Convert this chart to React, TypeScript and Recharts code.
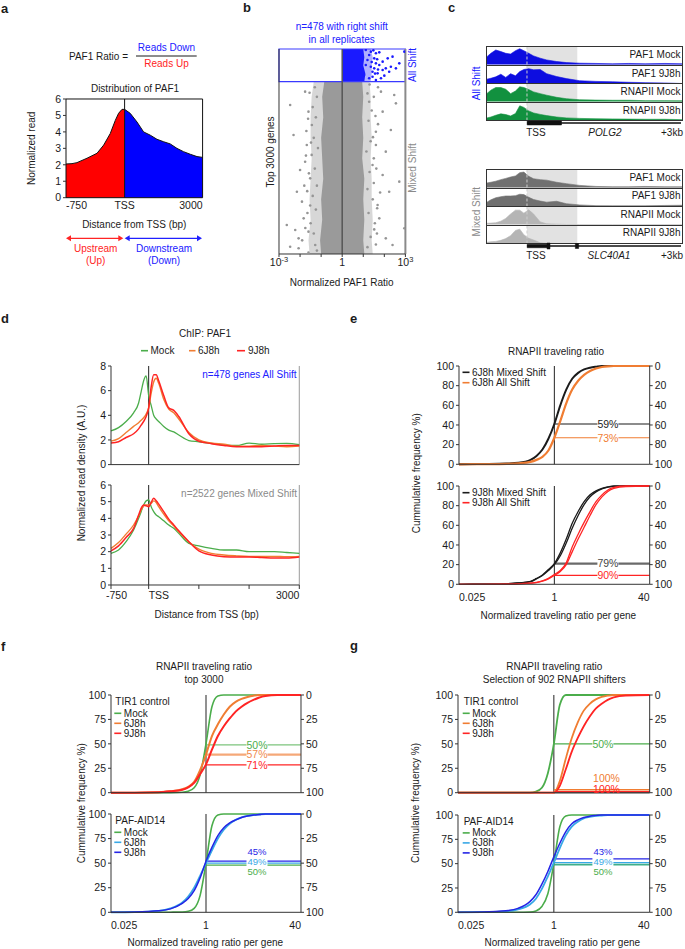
import React from "react";
import {
  ComposedChart,
  LineChart,
  AreaChart,
  Line,
  Area,
  Scatter,
  XAxis,
  YAxis,
  ReferenceLine,
  ReferenceArea,
  ReferenceDot,
} from "recharts";

const FONT = '"Liberation Sans", Arial, Helvetica, sans-serif';
const INK = "#1b1b1b";
const AXIS = "#333333";
const BLUE = "#2020ff";
const RED = "#ff2424";
const ORANGE = "#f07d32";
const GREEN = "#4bad4b";
const LBLUE = "#38a8e6";
const DBLUE = "#2424e6";
const GREY_TXT = "#8a8a8a";
const TICK = { fontSize: 10.5, fill: INK };

// ---------- a: distribution of PAF1 (x in % of the window, TSS at 42.9) ----------
const aPos = [0, 4.4, 8, 15.4, 22.7, 27.6, 32.4, 36.1, 38.5, 41, 42.9, 47, 52, 56.8, 61.7, 66.6, 71.5, 76.3, 81.2, 86, 91, 95.9, 100];
const aRead = [2.05, 2.07, 2.13, 2.4, 2.7, 3.2, 3.9, 4.7, 5.13, 5.37, 5.37, 5.13, 4.6, 4.0, 3.8, 3.55, 3.4, 3.27, 3.0, 2.8, 2.64, 2.5, 2.45];
const aTss = 42.9;
const aTicks = [0, 42.9, 100];
const aTickLabels = ["-750", "TSS", "3000"];

// ---------- b: normalized PAF1 ratio (log10) per gene rank ----------
const bAllShift = 478;
const bBlueRank = [0, 120, 240, 360, 478];
const bBlueCore = [[0, 1.0], [0, 1.05], [0, 1.0], [0, 1.1], [0, 1.05]];
const bBlueFringe = [[0, 1.35], [0, 1.45], [0, 1.4], [0, 1.4], [0, 1.35]];
const bGrayRank = [478, 700, 1000, 1300, 1600, 1900, 2200, 2500, 2800, 3000];
const bGrayCore = [[-0.85, 0.95], [-0.95, 1.0], [-0.9, 0.95], [-1.0, 1.0], [-0.95, 0.95], [-0.9, 1.05], [-1.0, 1.0], [-0.95, 1.05], [-1.05, 1.0], [-1.0, 1.05]];
const bGrayFringe = [[-1.35, 1.3], [-1.45, 1.35], [-1.5, 1.35], [-1.5, 1.4], [-1.45, 1.35], [-1.5, 1.4], [-1.55, 1.4], [-1.5, 1.45], [-1.6, 1.4], [-1.55, 1.45]];
const bGrayOut = [
  [-2.47, 819], [-2.31, 1258], [-2.15, 2088], [-2.23, 2649], [-2.63, 2576], [-2.47, 2893], [-2.07, 2771],
  [-1.6, 917], [-1.68, 1405], [-1.76, 1649], [-2.0, 1771], [-1.91, 2234], [-1.83, 2478], [-1.44, 1112],
  [-1.52, 1893], [-1.6, 2673], [-1.28, 2868], [-2.07, 2917], [-1.76, 624],
  [2.47, 673], [2.55, 795], [1.92, 917], [2.31, 1185], [1.6, 1405], [2.07, 1502], [2.71, 1941], [2.23, 2088],
  [1.68, 2283], [2.95, 2624], [2.07, 2771], [2.39, 2868], [1.76, 2478], [1.44, 1698], [1.92, 1844], [1.6, 1210],
  [1.84, 624], [1.28, 771],
  [-1.3, 560], [-1.2, 700], [-1.4, 850], [-1.25, 1000], [-1.35, 1300], [-1.15, 1450], [-1.45, 1550], [-1.3, 1750],
  [-1.2, 2000], [-1.4, 2150], [-1.25, 2350], [-1.5, 2550], [-1.35, 2700], [-1.2, 2950], [-1.7, 1200], [-1.8, 2000],
  [-1.9, 2800], [-1.65, 2400],
  [1.3, 520], [1.2, 650], [1.4, 900], [1.25, 1050], [1.35, 1350], [1.15, 1500], [1.5, 1600], [1.3, 1800],
  [1.2, 2050], [1.45, 2200], [1.25, 2400], [1.55, 2550], [1.35, 2750], [1.2, 2900], [1.7, 1100], [1.8, 2100], [1.65, 2700],
  [-1.55, 640], [-1.62, 1020], [-1.48, 1370], [-1.72, 1560], [-1.58, 1820], [-1.66, 2080], [-1.52, 2290], [-1.75, 2620], [-1.6, 2980],
  [1.5, 700], [1.58, 980], [1.46, 1290], [1.62, 1750], [1.5, 1960], [1.66, 2330], [1.52, 2640], [1.6, 2860], [1.7, 560],
];
const bBlueOut = [
  [1.12, 15], [1.36, 39], [1.6, 63], [1.76, 49], [1.52, 137], [1.92, 185], [2.16, 137], [2.39, 112], [2.71, 210],
  [1.92, 307], [1.68, 356], [1.44, 405], [1.28, 429], [1.6, 454], [2.07, 283], [2.31, 259], [1.76, 234], [1.36, 259],
  [1.2, 161], [1.6, 210], [1.84, 429], [1.44, 332], [2.55, 283], [2.95, 39], [1.04, 380], [1.12, 234], [2.23, 332],
  [2.0, 390], [1.52, 283], [1.28, 88], [1.48, 20], [1.66, 150], [1.4, 190], [1.56, 360], [1.7, 300],
];
const bTicks = [-3, -2, -1, 0, 1, 2, 3];
const bTickLabels: Record<number, [string, string]> = { [-3]: ["10", "-3"], 0: ["1", ""], 3: ["10", "3"] };

// ---------- c: browser tracks (x in % of window, 0..1 of track height) ----------
const cPos = [0, 2, 4.5, 7.1, 9.6, 12.1, 14.6, 16.8, 18.9, 21.4, 23.9, 27.3, 30.6, 35.7, 40.7, 47.5, 55.9, 64.3, 72.7, 81.1, 91.2, 100];
const cTss = 20.5;
const cShadeEnd = 46.3;
const cPolgPafMock = [0.45, 0.64, 0.83, 0.74, 0.64, 0.6, 0.79, 0.9, 0.79, 0.64, 0.49, 0.36, 0.26, 0.17, 0.11, 0.075, 0.06, 0.04, 0.06, 0.04, 0.06, 0.04];
const cPolgPaf9 = [0.25, 0.3, 0.38, 0.53, 0.35, 0.56, 0.44, 0.68, 0.8, 0.85, 0.78, 0.8, 0.56, 0.4, 0.28, 0.16, 0.12, 0.1, 0.07, 0.05, 0.03, 0];
const cPolgPolMock = [0.46, 0.65, 0.8, 0.8, 0.7, 0.45, 0.6, 0.84, 0.8, 0.68, 0.55, 0.45, 0.36, 0.24, 0.16, 0.1, 0.08, 0.07, 0.07, 0.05, 0.05, 0.04];
const cPolgPol9 = [0.15, 0.2, 0.3, 0.38, 0.34, 0.26, 0.4, 0.84, 0.75, 0.55, 0.43, 0.35, 0.28, 0.2, 0.15, 0.12, 0.1, 0.09, 0.08, 0.07, 0.07, 0.05];
const cSlcPafMock = [0.26, 0.3, 0.36, 0.45, 0.52, 0.6, 0.66, 0.85, 0.88, 0.64, 0.5, 0.45, 0.42, 0.3, 0.22, 0.12, 0.06, 0.04, 0.04, 0.06, 0.04, 0.04];
const cSlcPaf9 = [0.25, 0.38, 0.5, 0.56, 0.6, 0.6, 0.62, 0.7, 0.68, 0.53, 0.4, 0.31, 0.25, 0.3, 0.16, 0.09, 0.05, 0.04, 0.04, 0.04, 0.06, 0.07];
const cSlcPolMock = [0.07, 0.08, 0.1, 0.19, 0.35, 0.6, 0.82, 0.82, 0.65, 0.84, 0.6, 0.15, 0.04, 0.02, 0, 0, 0, 0, 0, 0, 0, 0];
const cSlcPol9 = [0.07, 0.1, 0.12, 0.18, 0.28, 0.45, 0.75, 0.82, 0.5, 0.3, 0.2, 0.04, 0.02, 0, 0, 0, 0, 0, 0, 0, 0, 0];
const cPolgExons = [[20.6, 38.2, 0.4]];
const cSlcExons = [[20.6, 31.5, 0.35], [30.8, 32.3, 0.6], [45.3, 47, 0.5]];

// ---------- d: ChIP PAF1 metagene ----------
const dBp = [-750, -600, -450, -300, -200, -150, -100, -50, 0, 50, 100, 150, 200, 300, 400, 500, 600, 800, 1000, 1250, 1500, 1750, 2000, 2250, 2500, 2750, 3000];
const dAllMock = [2.73, 3.0, 3.5, 4.2, 5.0, 5.9, 6.8, 7.2, 5.6, 4.8, 4.0, 3.7, 3.5, 3.1, 2.8, 2.65, 2.4, 1.95, 1.85, 1.72, 1.6, 1.55, 1.75, 1.65, 1.7, 1.72, 1.62];
const dAll6 = [1.9, 2.1, 2.6, 3.1, 3.4, 3.6, 3.8, 4.1, 4.6, 5.8, 6.7, 7.0, 6.6, 5.3, 4.5, 4.2, 3.7, 2.6, 2.0, 1.75, 1.65, 1.5, 1.5, 1.55, 1.5, 1.45, 1.5];
const dAll9 = [1.75, 1.85, 2.2, 2.5, 2.9, 3.2, 3.5, 3.9, 4.6, 6.3, 7.3, 7.3, 6.8, 5.6, 4.6, 4.4, 3.9, 2.5, 1.9, 1.7, 1.55, 1.45, 1.45, 1.45, 1.5, 1.55, 1.55];
const dMixMock = [1.9, 2.1, 2.6, 3.3, 4.0, 4.4, 4.8, 5.05, 5.1, 4.7, 4.4, 4.2, 4.1, 3.85, 3.6, 3.4, 3.1, 2.5, 2.35, 2.2, 2.1, 2.1, 2.0, 2.0, 2.0, 1.95, 1.9];
const dMix6 = [2.2, 2.55, 3.05, 3.6, 4.15, 4.5, 4.75, 4.8, 4.8, 4.9, 5.05, 4.95, 4.7, 4.25, 3.85, 3.55, 3.2, 2.6, 2.15, 1.9, 1.8, 1.75, 1.72, 1.72, 1.72, 1.7, 1.72];
const dMix9 = [2.05, 2.35, 2.85, 3.4, 4.2, 4.6, 4.8, 4.75, 4.7, 4.95, 5.2, 5.05, 4.85, 4.4, 3.95, 3.6, 3.25, 2.6, 2.05, 1.8, 1.7, 1.68, 1.68, 1.65, 1.62, 1.62, 1.68];
const dTicks = [-750, 0, 1000, 2000, 3000];
const dTickLabels = ["-750", "TSS", "", "", "3000"];

// ---------- e/f/g: cumulative traveling ratio (x = log10 ratio) ----------
const LOG_LO = Math.log10(0.025);
const LOG_HI = Math.log10(40);
const cdfLog = [LOG_LO, -1.2, -0.8, -0.6, -0.4, -0.3, -0.2, -0.1, 0, 0.1, 0.2, 0.3, 0.4, 0.5, 0.6, 0.7, 0.8, 0.9, 1.0, 1.2, LOG_HI];
const cdfTicks = [LOG_LO, 0, LOG_HI];
const cdfTickLabels = ["0.025", "1", "40"];

const e6Mixed = [0, 0.3, 0.8, 1.5, 4.5, 8.5, 15, 26, 41, 60, 76, 87, 93, 96.5, 98.3, 99.3, 100, 100, 100, 100, 100];
const e6All = [0, 0.2, 0.5, 1, 2.5, 4.5, 7.5, 14, 27, 44, 62, 76, 85, 91, 95, 97.5, 99, 99.7, 100, 100, 100];
const e9Mixed = [0, 0.2, 0.5, 1.5, 3, 6, 9.5, 15, 21, 32, 46, 62, 74, 84, 91, 95, 97.5, 99, 100, 100, 100];
const e9MixedB = [0, 0.2, 0.5, 1.3, 2.7, 5.5, 9, 14, 20, 29, 42, 57, 70, 81, 89, 94, 97, 98.8, 99.7, 100, 100];
const e9All = [0, 0, 0.2, 0.5, 1.2, 2, 3.5, 6, 10, 14, 22, 38, 51, 63, 74, 84, 91, 96, 98.5, 100, 100];
const e9AllB = [0, 0, 0.2, 0.5, 1.1, 1.8, 3.2, 5.5, 9, 13, 20, 33, 46, 58, 70, 81, 89, 94.5, 97.5, 99.5, 100];

const fTirMock = [0, 0, 0, 0.1, 0.5, 1.5, 5, 18, 50, 88, 99, 100, 100, 100, 100, 100, 100, 100, 100, 100, 100];
const fTir6 = [0, 0, 0.5, 1.5, 3.5, 6, 11, 23, 39, 58, 70, 80, 88, 93, 96, 98, 99.3, 100, 100, 100, 100];
const fTir9 = [0, 0, 0.5, 1.5, 3, 5.5, 10, 19, 29, 44, 58, 68, 76, 83, 88, 92, 95, 97.5, 99, 100, 100];
const fPafMock = [0, 0, 0, 0.1, 0.3, 1, 4, 17, 50, 88, 99, 100, 100, 100, 100, 100, 100, 100, 100, 100, 100];
const fPaf6 = [0, 0.3, 1.5, 4, 10, 16, 25, 37, 50, 63, 75, 84, 90, 94, 96.5, 98, 99, 99.5, 100, 100, 100];
const fPaf9 = [0, 0.3, 1.5, 3.5, 9, 14, 22, 35, 52, 66, 78, 86, 91, 94, 96.5, 98, 99, 99.5, 100, 100, 100];

const gTirMock = [0, 0, 0, 0, 0, 1, 5, 20, 50, 90, 100, 100, 100, 100, 100, 100, 100, 100, 100, 100, 100];
const gTir6 = [0, 0, 0, 0, 0, 0, 0, 0, 0, 12, 35, 56, 72, 84, 91, 95.5, 98, 99.3, 100, 100, 100];
const gTir9 = [0, 0, 0, 0, 0, 0, 0, 0, 0, 7, 24, 42, 56, 68, 78, 86, 91, 95, 97.5, 99.5, 100];
const gPafMock = [0, 0, 0, 0, 0.3, 1.4, 6, 19, 50, 88, 99, 100, 100, 100, 100, 100, 100, 100, 100, 100, 100];
const gPaf6 = [0, 0.3, 1, 3, 8, 14, 24, 37, 51, 66, 79, 88, 93, 96.5, 98, 99, 99.5, 100, 100, 100, 100];
const gPaf9 = [0, 0.3, 1.5, 4, 11, 18, 29, 42, 57, 71, 83, 91, 95, 97.5, 98.8, 99.5, 100, 100, 100, 100, 100];

type Rect = { x: number; y: number; w: number; h: number };
const at = (p: Rect, l: number, t: number): React.CSSProperties => ({ position: "absolute", left: p.x - l, top: p.y - t });

function xTick(ticks: number[], labels: string[], anchors: string[], dx: number[] = [], yOff = 0) {
  return (p: any) => {
    const i = ticks.indexOf(p.payload.value);
    if (i < 0 || !labels[i]) return <g />;
    return (
      <text x={p.x + (dx[i] || 0)} y={p.y + yOff} dy="0.71em" textAnchor={anchors[i]} fontSize={10.5} fill={INK}>
        {labels[i]}
      </text>
    );
  };
}

function PanelA() {
  const plot = { x: 65.7, y: 99, w: 136.6, h: 98.7 };
  const L = 30, R = 4, T = 6, B = 18;
  const rows = aPos.map((x, i) => ({ x, up: x <= aTss ? aRead[i] : null, down: x >= aTss ? aRead[i] : null }));
  return (
    <div style={at(plot, L, T)}>
      <ComposedChart width={plot.w + L + R} height={plot.h + T + B} data={rows} margin={{ top: T, right: R, bottom: 0, left: 0 }}>
        <XAxis type="number" dataKey="x" domain={[0, 100]} ticks={aTicks} interval={0} height={B} tickLine={false} axisLine={false}
          tick={xTick(aTicks, aTickLabels, ["start", "middle", "end"], [0, 0, 0], -4)} />
        <YAxis domain={[0, 6]} ticks={[0, 1, 2, 3, 4, 5, 6]} interval={0} width={L} tickSize={3} axisLine={false} tickLine={{ stroke: AXIS }} tick={TICK} />
        <Area dataKey="up" type="linear" fill="#ff0000" fillOpacity={1} stroke="#111" strokeWidth={1} isAnimationActive={false} />
        <Area dataKey="down" type="linear" fill="#0000ff" fillOpacity={1} stroke="#111" strokeWidth={1} isAnimationActive={false} />
        <ReferenceLine x={aTss} stroke="#111" />
        <ReferenceArea x1={0} x2={100} y1={0} y2={6} fill="none" stroke="#111" />
      </ComposedChart>
    </div>
  );
}

const dot = (color: string) => (p: any) => <circle cx={p.cx} cy={p.cy} r={1.3} fill={color} />;

function PanelB() {
  const plot = { x: 279.3, y: 49, w: 126.4, h: 205 };
  const L = 14, R = 12, T = 4, B = 24;
  const rows = [
    ...bBlueRank.map((rank, i) => ({ rank, blueCore: bBlueCore[i], blueFringe: bBlueFringe[i] })),
    ...bGrayRank.map((rank, i) => ({ rank, grayCore: bGrayCore[i], grayFringe: bGrayFringe[i] })),
  ];
  const grayPts = bGrayOut.map(([lr, rank]) => ({ lr, rank }));
  const bluePts = bBlueOut.map(([lr, rank]) => ({ lr, rank }));
  const tick = (p: any) => {
    const lab = bTickLabels[p.payload.value];
    if (!lab) return <g />;
    return (
      <text x={p.x} y={p.y} dy="0.71em" textAnchor="middle" fontSize={10.5} fill={INK}>
        {lab[0]}
        {lab[1] ? <tspan dy={-4} fontSize={7.5}>{lab[1]}</tspan> : null}
      </text>
    );
  };
  return (
    <div style={at(plot, L, T)}>
      <ComposedChart layout="vertical" width={plot.w + L + R} height={plot.h + T + B} data={rows} margin={{ top: T, right: R, bottom: 0, left: 0 }}>
        <XAxis type="number" domain={[-3, 3]} ticks={bTicks} interval={0} height={B} tickSize={3} axisLine={{ stroke: AXIS }} tickLine={{ stroke: AXIS }} tick={tick} allowDataOverflow />
        <YAxis type="number" dataKey="rank" domain={[0, 3000]} width={L} tick={false} tickLine={false} axisLine={{ stroke: AXIS }} allowDataOverflow />
        <Area dataKey="grayFringe" fill="#9a9a9a" fillOpacity={0.4} stroke="none" isAnimationActive={false} />
        <Area dataKey="grayCore" fill="#9a9a9a" fillOpacity={1} stroke="none" isAnimationActive={false} />
        <Area dataKey="blueFringe" fill="#1a1aff" fillOpacity={0.35} stroke="none" isAnimationActive={false} />
        <Area dataKey="blueCore" fill="#1a1aff" fillOpacity={1} stroke="none" isAnimationActive={false} />
        <Scatter data={grayPts} dataKey="lr" shape={dot("#959595")} isAnimationActive={false} />
        <Scatter data={bluePts} dataKey="lr" shape={dot("#1a1aff")} isAnimationActive={false} />
        <ReferenceLine x={0} stroke="#555" strokeWidth={1.5} />
        <ReferenceLine x={3} stroke="#8a8a8a" strokeWidth={2} />
        <ReferenceArea x1={-3} x2={3} y1={0} y2={bAllShift} fill="none" stroke="#3a3aff" strokeWidth={1.2} />
      </ComposedChart>
    </div>
  );
}

function Track({ w, h, values, color }: { w: number; h: number; values: number[]; color: string }) {
  const rows = cPos.map((p, i) => ({ p, v: values[i] }));
  return (
    <AreaChart width={w} height={h} data={rows} margin={{ top: 0, right: 0, bottom: 0, left: 0 }}>
      <XAxis type="number" dataKey="p" domain={[0, 100]} hide />
      <YAxis domain={[0, 1]} hide />
      <ReferenceArea x1={cTss} x2={cShadeEnd} y1={0} y2={1} fill="#e2e2e2" fillOpacity={1} stroke="none" />
      <Area dataKey="v" type="linear" fill={color} fillOpacity={1} stroke={color} strokeWidth={0.6} isAnimationActive={false} />
      <ReferenceLine x={cTss} stroke="#cfcfcf" strokeDasharray="3 2" />
    </AreaChart>
  );
}

function Gene({ left, top, w, exons }: { left: number; top: number; w: number; exons: number[][] }) {
  const rows = [{ p: cTss, g: 0 }, { p: 99.5, g: 0 }];
  return (
    <div style={{ position: "absolute", left, top }}>
      <ComposedChart width={w} height={10} data={rows} margin={{ top: 0, right: 0, bottom: 0, left: 0 }}>
        <XAxis type="number" dataKey="p" domain={[0, 100]} hide />
        <YAxis domain={[-1, 1]} hide />
        <Line dataKey="g" stroke="#111" strokeWidth={1.3} dot={false} activeDot={false} isAnimationActive={false} />
        {exons.map(([a, b, hh], i) => (
          <ReferenceArea key={i} x1={a} x2={b} y1={-hh} y2={hh} fill="#111" fillOpacity={1} stroke="#111" strokeWidth={0.5} />
        ))}
      </ComposedChart>
    </div>
  );
}

const C_LEFT = 486;
const C_W = 197;
const C_TRACK_H = 18.5;
const cGroups = [
  {
    top: 46.3,
    tracks: [
      { label: "PAF1 Mock", values: cPolgPafMock, color: "#0d0de0" },
      { label: "PAF1 9J8h", values: cPolgPaf9, color: "#0d0de0" },
      { label: "RNAPII Mock", values: cPolgPolMock, color: "#12913f" },
      { label: "RNAPII 9J8h", values: cPolgPol9, color: "#12913f" },
    ],
    exons: cPolgExons,
    gene: "POLG2",
  },
  {
    top: 169,
    tracks: [
      { label: "PAF1 Mock", values: cSlcPafMock, color: "#707070" },
      { label: "PAF1 9J8h", values: cSlcPaf9, color: "#707070" },
      { label: "RNAPII Mock", values: cSlcPolMock, color: "#b5b5b5" },
      { label: "RNAPII 9J8h", values: cSlcPol9, color: "#b5b5b5" },
    ],
    exons: cSlcExons,
    gene: "SLC40A1",
  },
];

function PanelC() {
  return (
    <>
      {cGroups.map((g, gi) => (
        <React.Fragment key={gi}>
          <div style={{ position: "absolute", left: C_LEFT, top: g.top, width: C_W - 2, borderLeft: "1px solid #333", borderRight: "1px solid #333", borderTop: "1px solid #333" }}>
            {g.tracks.map((t, ti) => (
              <div key={ti} style={{ height: C_TRACK_H - 1, borderBottom: "1px solid #333" }}>
                <Track w={C_W - 2} h={C_TRACK_H - 1} values={t.values} color={t.color} />
              </div>
            ))}
          </div>
          <Gene left={C_LEFT + 1} top={g.top + 1 + 4 * C_TRACK_H - 3} w={C_W - 2} exons={g.exons} />
        </React.Fragment>
      ))}
    </>
  );
}

function DChart({ plot, mock, h6, h9, yMax, yTicks, showX }: any) {
  const rows = dBp.map((x, i) => ({ x, mock: mock[i], h6: h6[i], h9: h9[i] }));
  const L = 30, R = 4, T = 6, B = showX ? 20 : 8;
  return (
    <div style={at(plot, L, T)}>
      <LineChart width={plot.w + L + R} height={plot.h + T + B} data={rows} margin={{ top: T, right: R, bottom: 0, left: 0 }}>
        <XAxis type="number" dataKey="x" domain={[-750, 3000]} ticks={dTicks} interval={0} height={B} tickSize={4} axisLine={{ stroke: AXIS }} tickLine={{ stroke: AXIS }}
          tick={showX ? xTick(dTicks, dTickLabels, ["start", "start", "middle", "middle", "end"], [-5, 0, 0, 0, 0], 1) : false} />
        <YAxis domain={[0, yMax]} ticks={yTicks} interval={0} width={L} tickSize={3} axisLine={{ stroke: AXIS }} tickLine={{ stroke: AXIS }} tick={TICK} />
        <ReferenceLine x={0} stroke="#222" />
        <ReferenceLine x={3000} stroke="#9a9a9a" />
        <Line dataKey="mock" type="monotone" stroke={GREEN} strokeWidth={1.3} dot={false} activeDot={false} isAnimationActive={false} />
        <Line dataKey="h6" type="monotone" stroke={ORANGE} strokeWidth={1.4} dot={false} activeDot={false} isAnimationActive={false} />
        <Line dataKey="h9" type="monotone" stroke={RED} strokeWidth={1.5} dot={false} activeDot={false} isAnimationActive={false} />
      </LineChart>
    </div>
  );
}

type Cdf = { key: string; values: number[]; color: string; width?: number };
type Pct = { at: number; color: string; width?: number; text?: string; textColor?: string; tx?: number; dy?: number; bg?: boolean; size?: number };

const pctShape = (p: Pct) => (props: any) => {
  const x = props.cx;
  const y = props.cy + (p.dy || 0);
  const w = (p.text || "").length * 6 + 3;
  return (
    <g>
      {p.bg !== false && <rect x={x - w / 2} y={y - 5.5} width={w} height={11} fill="#fff" />}
      <text x={x} y={y} dy="0.36em" textAnchor="middle" fontSize={p.size ?? 10.5} fill={p.textColor || p.color}>
        {p.text}
      </text>
    </g>
  );
};

function CdfChart({ plot, series, pcts, showX, yTicks }: { plot: Rect; series: Cdf[]; pcts: Pct[]; showX: boolean; yTicks: number[] }) {
  const rows = cdfLog.map((x, i) => {
    const r: any = { x };
    series.forEach((s) => (r[s.key] = s.values[i]));
    return r;
  });
  const L = 30, R = 30, T = 7, B = showX ? 22 : 8;
  return (
    <div style={at(plot, L, T)}>
      <LineChart width={plot.w + L + R} height={plot.h + T + B} data={rows} margin={{ top: T, right: 0, bottom: 0, left: 0 }}>
        <XAxis type="number" dataKey="x" domain={[LOG_LO, LOG_HI]} ticks={cdfTicks} interval={0} height={B} tickLine={false} axisLine={{ stroke: AXIS }}
          tick={showX ? xTick(cdfTicks, cdfTickLabels, ["start", "middle", "end"], [0, 0, 0], 1) : false} allowDataOverflow />
        <YAxis yAxisId="l" domain={[0, 100]} ticks={yTicks} interval={0} width={L} tickSize={3} axisLine={{ stroke: AXIS }} tickLine={{ stroke: AXIS }} tick={TICK} />
        <YAxis yAxisId="r" orientation="right" reversed domain={[0, 100]} ticks={yTicks} interval={0} width={R} tickSize={3} axisLine={{ stroke: AXIS }} tickLine={{ stroke: AXIS }} tick={TICK} />
        <Line yAxisId="r" dataKey={series[0].key} stroke="none" strokeWidth={0} dot={false} activeDot={false} legendType="none" isAnimationActive={false} />
        <ReferenceLine yAxisId="l" x={0} stroke="#222" />
        {pcts.map((p, i) => (
          <ReferenceLine key={"s" + i} yAxisId="r" segment={[{ x: 0, y: p.at }, { x: LOG_HI, y: p.at }]} stroke={p.color} strokeWidth={p.width ?? 1.2} />
        ))}
        {series.map((s) => (
          <Line key={s.key} yAxisId="l" dataKey={s.key} type="monotone" stroke={s.color} strokeWidth={s.width ?? 1.6} dot={false} activeDot={false} isAnimationActive={false} />
        ))}
        {pcts.filter((p) => p.text).map((p, i) => (
          <ReferenceDot key={"d" + i} yAxisId="r" x={p.tx ?? 0.9} y={p.at} r={0} shape={pctShape(p)} />
        ))}
      </LineChart>
    </div>
  );
}

function Txt({ x, y, children, size = 10, color = INK, anchor = "middle", rot = 0, bold = false, italic = false }: any) {
  return (
    <text x={x} y={y} fontSize={size} fill={color} textAnchor={anchor} dominantBaseline="central"
      transform={rot ? `rotate(${rot} ${x} ${y})` : undefined} fontWeight={bold ? "bold" : undefined} fontStyle={italic ? "italic" : undefined}>
      {children}
    </text>
  );
}

function Legend({ x, y, title, items, step = 10 }: any) {
  return (
    <g>
      {title && <Txt x={x + 1} y={y} anchor="start">{title}</Txt>}
      {items.map(([label, color]: [string, string], i: number) => {
        const cy = (title ? y + 11.6 : y) + i * step;
        return (
          <g key={i}>
            <line x1={x} x2={x + 7} y1={cy} y2={cy} stroke={color} strokeWidth={1.6} />
            <Txt x={x + 9.5} y={cy} anchor="start">{label}</Txt>
          </g>
        );
      })}
    </g>
  );
}

const panelLetters: [string, number, number][] = [["a", 1, 8], ["b", 243, 7.5], ["c", 448, 7.5], ["d", 1, 318], ["e", 350, 318], ["f", 1, 646.7], ["g", 350, 645]];

function Arrow({ x1, x2, y, color }: any) {
  return (
    <g>
      <line x1={x1 + 3} x2={x2 - 3} y1={y} y2={y} stroke={color} strokeWidth={1.2} />
      <polygon points={`${x1},${y} ${x1 + 5},${y - 3} ${x1 + 5},${y + 3}`} fill={color} />
      <polygon points={`${x2},${y} ${x2 - 5},${y - 3} ${x2 - 5},${y + 3}`} fill={color} />
    </g>
  );
}

function Overlay() {
  return (
    <svg width={685} height={949} style={{ position: "absolute", left: 0, top: 0, pointerEvents: "none" }} fontFamily={FONT}>
      {panelLetters.map(([t, x, y]) => (
        <Txt key={t} x={x} y={y} size={13} bold anchor="start">{t}</Txt>
      ))}
      {/* a */}
      <Txt x={69} y={56} anchor="start">PAF1 Ratio =</Txt>
      <Txt x={166.5} y={47.7} color={BLUE}>Reads Down</Txt>
      <line x1={136} x2={196.7} y1={56} y2={56} stroke={INK} strokeWidth={1} />
      <Txt x={166.5} y={63.6} color={RED}>Reads Up</Txt>
      <Txt x={135} y={88.3}>Distribution of PAF1</Txt>
      <Txt x={31.7} y={148.3} rot={-90}>Normalized read</Txt>
      <Txt x={134.3} y={224}>Distance from TSS (bp)</Txt>
      <Arrow x1={66} x2={123.3} y={238.3} color={RED} />
      <Arrow x1={124.7} x2={202} y={238.3} color={BLUE} />
      <Txt x={95.7} y={248.7} color={RED}>Upstream</Txt>
      <Txt x={95.7} y={260.5} color={RED}>(Up)</Txt>
      <Txt x={164} y={248.7} color={BLUE}>Downstream</Txt>
      <Txt x={164} y={260.5} color={BLUE}>(Down)</Txt>
      {/* b */}
      <Txt x={341.7} y={26.7} color={BLUE}>n=478 with right shift</Txt>
      <Txt x={341.7} y={39} color={BLUE}>in all replicates</Txt>
      <Txt x={270} y={152} rot={-90}>Top 3000 genes</Txt>
      <Txt x={412.7} y={65} rot={-90} color={BLUE}>All Shift</Txt>
      <Txt x={412.7} y={168} rot={-90} color={GREY_TXT}>Mixed Shift</Txt>
      <Txt x={341.7} y={282.7}>Normalized PAF1 Ratio</Txt>
      {/* c */}
      <Txt x={476.7} y={83.3} rot={-90} color={BLUE}>All Shift</Txt>
      <Txt x={476.7} y={211.7} rot={-90} color={GREY_TXT}>Mixed Shift</Txt>
      {cGroups.map((g, gi) => (
        <g key={gi}>
          {g.tracks.map((t, ti) => (
            <Txt key={ti} x={680.5} y={g.top + 1 + ti * C_TRACK_H + 7.3} anchor="end">{t.label}</Txt>
          ))}
          <Txt x={536} y={g.top + 4 * C_TRACK_H + 12.5}>TSS</Txt>
          <Txt x={gi === 0 ? 605 : 609} y={g.top + 4 * C_TRACK_H + 12.5} italic>{g.gene}</Txt>
          <Txt x={683} y={g.top + 4 * C_TRACK_H + 12.5} anchor="end">+3kb</Txt>
        </g>
      ))}
      {/* d */}
      <Txt x={205} y={333.3}>ChIP: PAF1</Txt>
      <line x1={141} x2={148} y1={350.7} y2={350.7} stroke={GREEN} strokeWidth={1.6} />
      <Txt x={150.5} y={350.7} anchor="start">Mock</Txt>
      <line x1={189} x2={195.5} y1={350.7} y2={350.7} stroke={ORANGE} strokeWidth={1.6} />
      <Txt x={198} y={350.7} anchor="start">6J8h</Txt>
      <line x1={237} x2={245} y1={350.7} y2={350.7} stroke={RED} strokeWidth={1.6} />
      <Txt x={248} y={350.7} anchor="start">9J8h</Txt>
      <Txt x={296.5} y={374} anchor="end" color={BLUE}>n=478 genes All Shift</Txt>
      <Txt x={297} y={493.3} anchor="end" color={GREY_TXT}>n=2522 genes Mixed Shift</Txt>
      <Txt x={81.7} y={473} rot={-90}>Normalized read density (A.U.)</Txt>
      <Txt x={206.7} y={614.7}>Distance from TSS (bp)</Txt>
      {/* e */}
      <Txt x={556} y={351}>RNAPII traveling ratio</Txt>
      <Legend x={462.5} y={372.3} items={[["6J8h Mixed Shift", INK], ["6J8h All Shift", ORANGE]]} step={10.4} />
      <Legend x={462.5} y={492.7} items={[["9J8h Mixed Shift", INK], ["9J8h All Shift", RED]]} step={10} />
      <Txt x={416.7} y={473.3} rot={-90}>Cummulative frequency %)</Txt>
      <Txt x={558.3} y={615}>Normalized traveling ratio per gene</Txt>
      {/* f */}
      <Txt x={204} y={666.7}>RNAPII traveling ratio</Txt>
      <Txt x={204} y={679.3}>top 3000</Txt>
      <Legend x={114.3} y={701.7} title="TIR1 control" items={[["Mock", GREEN], ["6J8h", ORANGE], ["9J8h", RED]]} />
      <Legend x={114.3} y={820.7} title="PAF-AID14" items={[["Mock", GREEN], ["6J8h", LBLUE], ["9J8h", DBLUE]]} />
      <Txt x={81.7} y={803.3} rot={-90}>Cummulative frequency %)</Txt>
      <Txt x={205.3} y={942.3}>Normalized traveling ratio per gene</Txt>
      {/* g */}
      <Txt x={554.3} y={666.7}>RNAPII traveling ratio</Txt>
      <Txt x={554.3} y={679.3}>Selection of 902 RNAPII shifters</Txt>
      <Legend x={462.7} y={701.7} title="TIR1 control" items={[["Mock", GREEN], ["6J8h", ORANGE], ["9J8h", RED]]} />
      <Legend x={462.7} y={821.3} title="PAF-AID14" items={[["Mock", GREEN], ["6J8h", LBLUE], ["9J8h", DBLUE]]} />
      <Txt x={415} y={803} rot={-90}>Cummulative frequency %)</Txt>
      <Txt x={562.3} y={942.3}>Normalized traveling ratio per gene</Txt>
    </svg>
  );
}

const TICKS_20 = [0, 20, 40, 60, 80, 100];
const TICKS_25 = [0, 25, 50, 75, 100];

export default function App() {
  return (
    <div style={{ position: "absolute", left: 0, top: 0, width: 685, height: 949, background: "#fff", fontFamily: FONT, overflow: "hidden" }}>
      <PanelA />
      <PanelB />
      <PanelC />
      <DChart plot={{ x: 111, y: 365.7, w: 188.3, h: 98.6 }} mock={dAllMock} h6={dAll6} h9={dAll9} yMax={8} yTicks={[0, 2, 4, 6, 8]} showX={false} />
      <DChart plot={{ x: 111, y: 485, w: 188.3, h: 100 }} mock={dMixMock} h6={dMix6} h9={dMix9} yMax={6} yTicks={[0, 1, 2, 3, 4, 5, 6]} showX />
      <CdfChart plot={{ x: 459.3, y: 366, w: 190.7, h: 98.3 }} showX={false} yTicks={TICKS_20}
        series={[{ key: "mix", values: e6Mixed, color: INK, width: 2 }, { key: "all", values: e6All, color: ORANGE, width: 2.2 }]}
        pcts={[{ at: 59, color: INK, text: "59%" }, { at: 73, color: ORANGE, text: "73%" }]} />
      <CdfChart plot={{ x: 459.3, y: 485.7, w: 190.7, h: 98.3 }} showX yTicks={TICKS_20}
        series={[
          { key: "mixA", values: e9Mixed, color: INK, width: 1.3 }, { key: "mixB", values: e9MixedB, color: INK, width: 1.3 },
          { key: "allA", values: e9All, color: RED, width: 1.3 }, { key: "allB", values: e9AllB, color: RED, width: 1.3 },
        ]}
        pcts={[{ at: 79, color: "#6a6a6a", width: 2.2, text: "79%", textColor: "#444" }, { at: 91, color: RED, text: "90%" }]} />
      <CdfChart plot={{ x: 111, y: 695, w: 190, h: 97.7 }} showX={false} yTicks={TICKS_25}
        series={[{ key: "m", values: fTirMock, color: GREEN }, { key: "h6", values: fTir6, color: ORANGE, width: 2 }, { key: "h9", values: fTir9, color: RED, width: 2 }]}
        pcts={[
          { at: 51, color: "#7cc47c", text: "50%", textColor: GREEN, tx: 0.86 },
          { at: 61, color: "#f5a878", width: 2.2, text: "57%", textColor: "#f08a4c", tx: 0.86 },
          { at: 71.5, color: RED, text: "71%", tx: 0.86 },
        ]} />
      <CdfChart plot={{ x: 111, y: 814, w: 190, h: 98.3 }} showX yTicks={TICKS_25}
        series={[{ key: "m", values: fPafMock, color: GREEN }, { key: "h6", values: fPaf6, color: LBLUE, width: 1.8 }, { key: "h9", values: fPaf9, color: DBLUE, width: 1.5 }]}
        pcts={[
          { at: 48, color: DBLUE, text: "45%", tx: 0.86, dy: -9.7, bg: false, size: 9.5 },
          { at: 50, color: LBLUE, text: "49%", tx: 0.86, dy: -1.35, size: 9.5 },
          { at: 52, color: GREEN, text: "50%", tx: 0.86, dy: 6.9, bg: false, size: 9.5 },
        ]} />
      <CdfChart plot={{ x: 458.3, y: 695, w: 191.7, h: 97.7 }} showX={false} yTicks={TICKS_25}
        series={[{ key: "m", values: gTirMock, color: GREEN, width: 1.8 }, { key: "h6", values: gTir6, color: ORANGE, width: 1.8 }, { key: "h9", values: gTir9, color: RED, width: 1.8 }]}
        pcts={[
          { at: 50, color: GREEN, text: "50%", tx: 0.82 },
          { at: 100, color: "#9a9a9a", width: 2 },
          { at: 97, color: ORANGE, width: 1.5, text: "100%", tx: 0.88, dy: -11.5, bg: false },
          { at: 99, color: RED, width: 1.5, text: "100%", tx: 0.88, dy: -2.5, bg: false },
        ]} />
      <CdfChart plot={{ x: 458.3, y: 815, w: 191.7, h: 97.3 }} showX yTicks={TICKS_25}
        series={[{ key: "m", values: gPafMock, color: GREEN }, { key: "h6", values: gPaf6, color: LBLUE, width: 1.8 }, { key: "h9", values: gPaf9, color: DBLUE, width: 1.5 }]}
        pcts={[
          { at: 45, color: DBLUE, text: "43%", tx: 0.82, dy: -7.3, bg: false, size: 9.5 },
          { at: 49, color: LBLUE, text: "49%", tx: 0.82, dy: -0.9, size: 9.5 },
          { at: 51, color: "#3fb08a", width: 1.6, text: "50%", textColor: GREEN, tx: 0.82, dy: 7.4, bg: false, size: 9.5 },
        ]} />
      <Overlay />
    </div>
  );
}
